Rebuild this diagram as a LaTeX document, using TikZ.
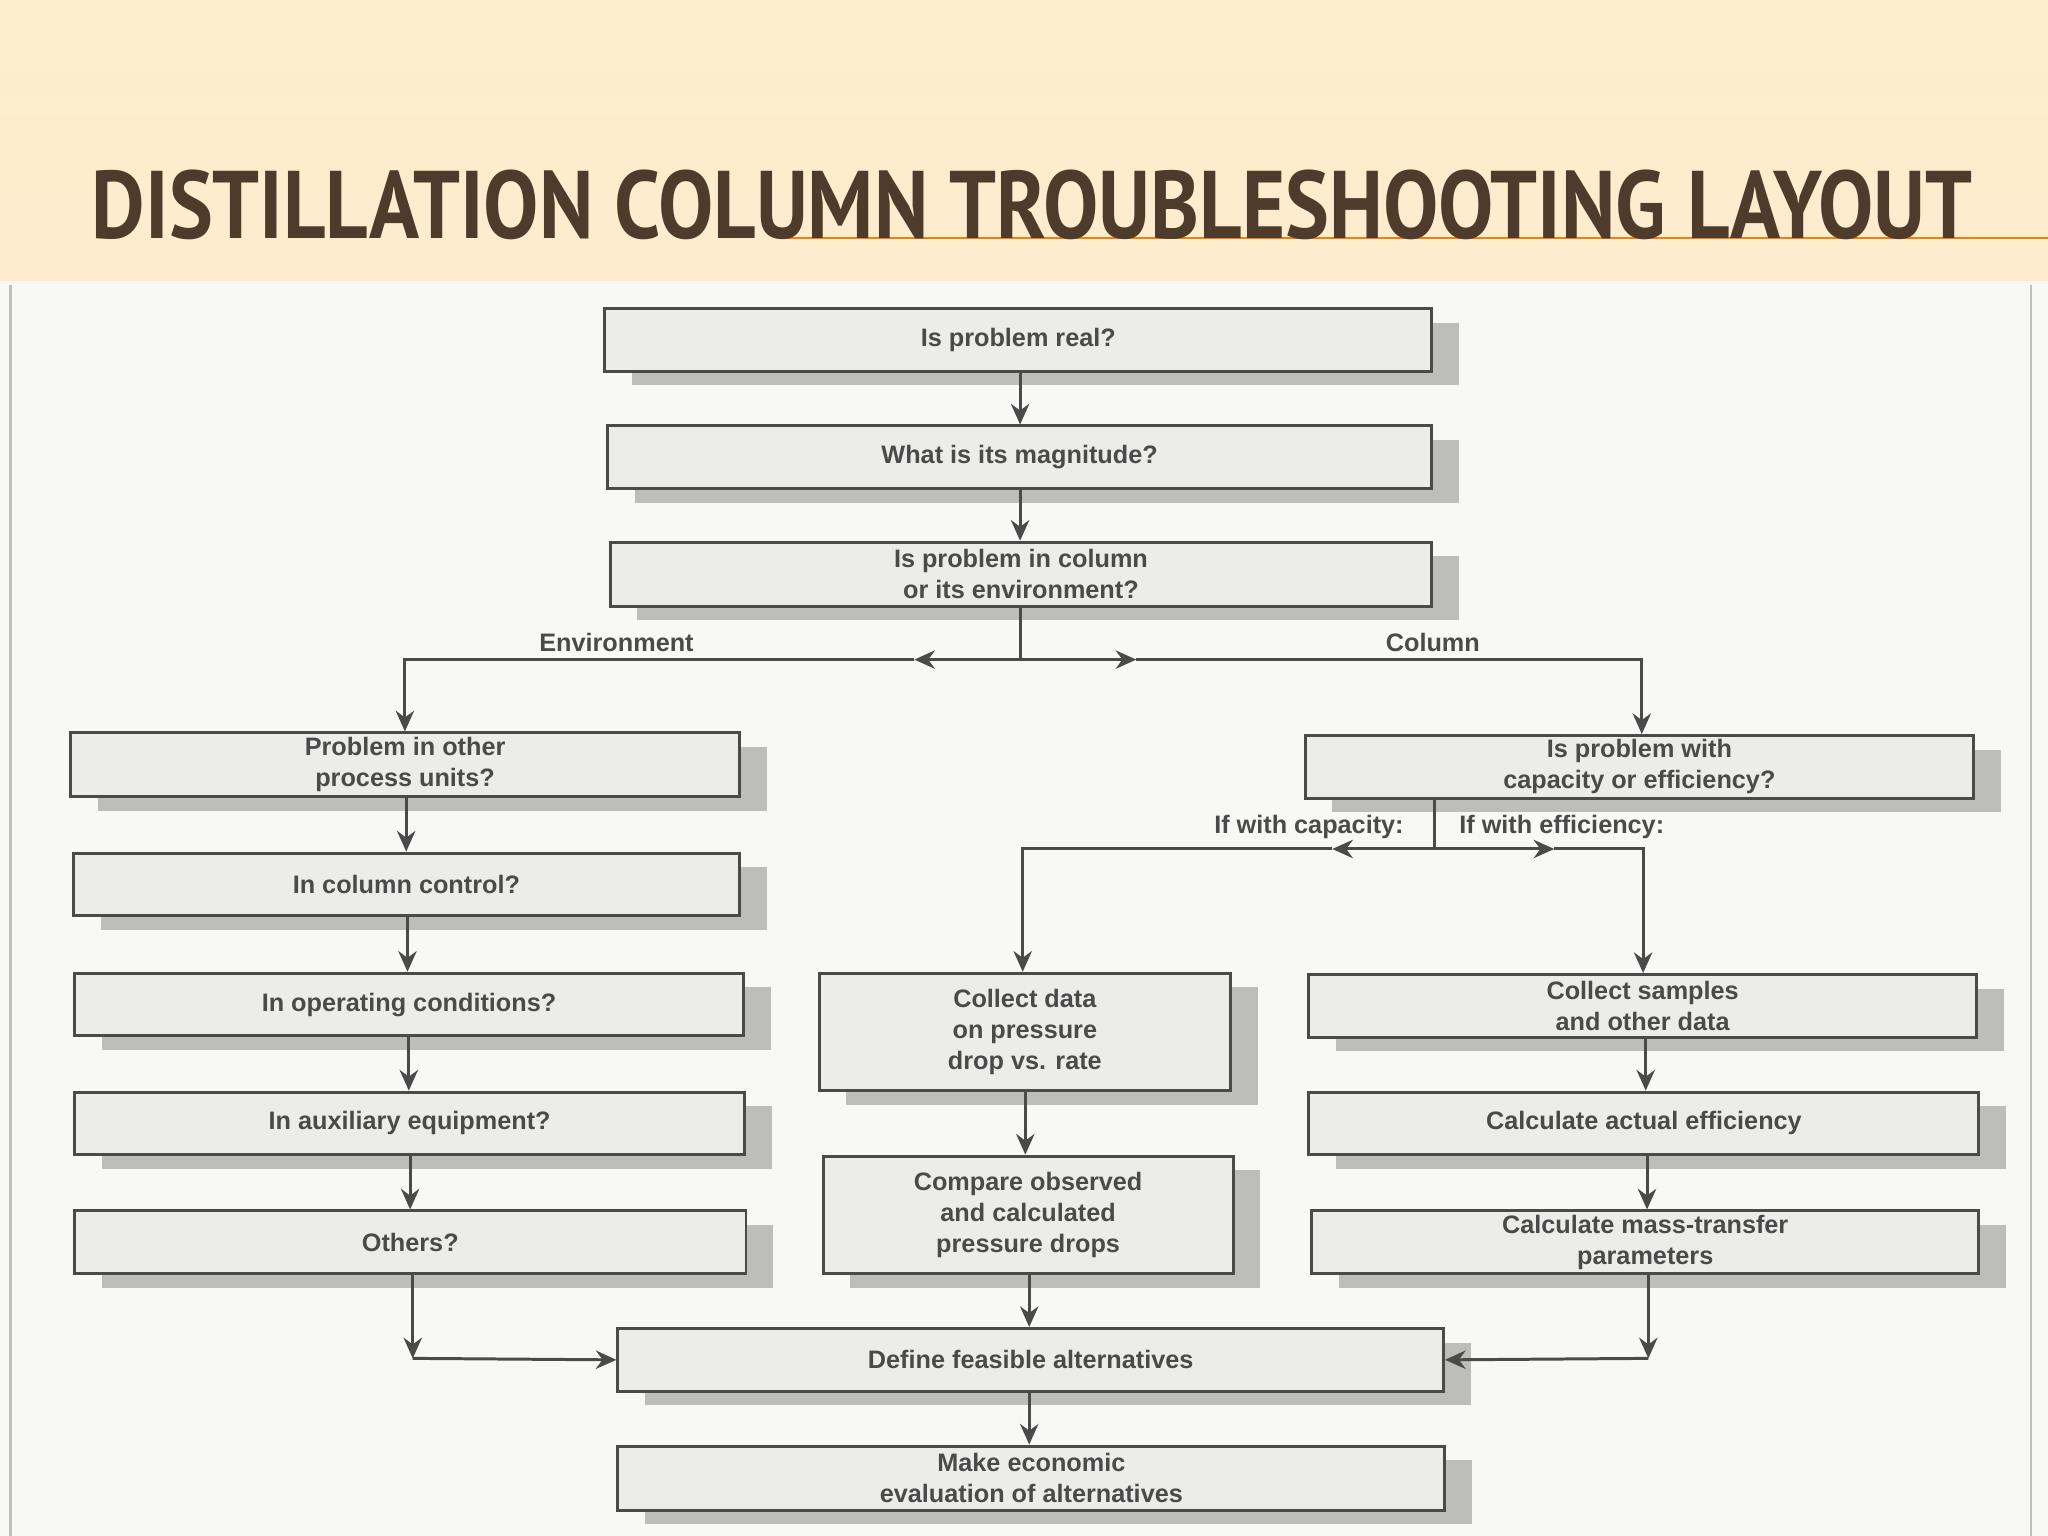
\documentclass[tikz,border=0pt]{standalone}
\usepackage{fontspec}
\setmainfont{Liberation Sans}
\newfontfamily\titlefont{PT Sans}
\usetikzlibrary{arrows.meta}
\definecolor{band}{HTML}{FCEFCB}
\definecolor{titlec}{HTML}{4E3B2C}
\definecolor{boxfill}{HTML}{ECECEA}
\definecolor{ink}{HTML}{4A4A4A}
\definecolor{shadowc}{HTML}{BDBDBB}
\definecolor{page}{HTML}{F8F8F6}
\tikzset{
  x=0.02cm,y=-0.02cm,
  fbox/.style={draw=ink,line width=1.3pt,fill=boxfill,text=ink,align=center,inner sep=0pt,
     font=\fontsize{11}{13.5}\selectfont\bfseries},
  lbl/.style={text=ink,font=\fontsize{11}{13}\selectfont\bfseries,inner sep=0pt},
  conn/.style={draw=ink,line width=1.3pt},
  arr/.style={conn,-{Stealth[length=9pt,width=8pt]}},
}
\newcommand{\bx}[6]{% name x1 y1 x2 y2 text
  \fill[shadowc] (#2+22,#3+12) rectangle (#4+22,#5+12);
  \node[fbox,minimum width={(#4-#2)*0.02cm},minimum height={(#5-#3)*0.02cm},anchor=north west] (#1) at (#2,#3) {#6};}
\begin{document}
\begin{tikzpicture}
\useasboundingbox (0,0) rectangle (1568,1176);
\fill[page] (0,0) rectangle (1568,1176);
\shade[top color=band,bottom color=band!85!orange!60!white] (0,0) rectangle (1568,215);
\fill[band] (0,0) rectangle (1568,60);
\draw[orange!80!brown,line width=1pt] (600,182) -- (1568,182);
\node[anchor=west,inner sep=0pt] (title) at (70,157) {\resizebox{28.8cm}{1.05cm}{\titlefont\bfseries\color{titlec}DISTILLATION COLUMN TROUBLESHOOTING LAYOUT}};
\draw[gray!50,line width=1pt] (8,218) -- (8,1176);
\draw[gray!50,line width=1pt] (1555,218) -- (1555,1176);

\bx{A}{462}{235}{1095}{283}{Is problem real?}
\bx{B}{464}{325}{1095}{373}{What is its magnitude?}
\bx{C}{466}{414}{1095}{463}{Is problem in column\\or its environment?}
\bx{D}{53}{560}{565}{609}{Problem in other\\process units?}
\bx{E}{55}{652}{565}{700}{In column control?}
\bx{F}{56}{744}{568}{792}{In operating conditions?}
\bx{G}{56}{835}{569}{883}{In auxiliary equipment?}
\bx{H}{56}{926}{570}{974}{Others?}
\bx{K}{998}{562}{1510}{610}{Is problem with\\capacity or efficiency?}
\bx{P}{626}{744}{941}{834}{Collect data\\on pressure\\drop vs. rate}
\bx{R}{629}{884}{943}{974}{Compare observed\\and calculated\\pressure drops}
\bx{Q}{1001}{745}{1512}{793}{Collect samples\\and other data}
\bx{S}{1001}{835}{1514}{883}{Calculate actual efficiency}
\bx{T}{1003}{926}{1514}{974}{Calculate mass-transfer\\parameters}
\bx{X}{472}{1016}{1104}{1064}{Define feasible alternatives}
\bx{Y}{472}{1106}{1105}{1155}{Make economic\\evaluation of alternatives}

\draw[arr] (A.south -| 781,0) -- (B.north -| 781,0);
\draw[arr] (B.south -| 781,0) -- (C.north -| 781,0);
\coordinate (c0) at (781,505);
\draw[conn] (C.south -| 781,0) -- (c0);
\draw[arr] (c0) -- (700,505);
\draw[arr] (c0) -- (870,505);
\draw[arr] (700,505) -| (D.north -| 310,0);
\draw[arr] (870,505) -| (K.north -| 1257,0);
\node[lbl] (env) at (472,492) {Environment};
\node[lbl] (col) at (1097,492) {Column};
\draw[arr] (D.south -| 311,0) -- (E.north -| 311,0);
\draw[arr] (E.south -| 312,0) -- (F.north -| 312,0);
\draw[arr] (F.south -| 313,0) -- (G.north -| 313,0);
\draw[arr] (G.south -| 314,0) -- (H.north -| 314,0);
\coordinate (k0) at (1098,650);
\draw[conn] (K.south -| 1098,0) -- (k0);
\draw[arr] (k0) -- (1020,650);
\draw[arr] (k0) -- (1190,650);
\draw[arr] (1020,650) -| (P.north -| 783,0);
\draw[arr] (1190,650) -| (Q.north -| 1258,0);
\node[lbl,anchor=east] (cap) at (1075,633) {If with capacity:};
\node[lbl,anchor=west] (eff) at (1117,633) {If with efficiency:};
\draw[arr] (P.south -| 785,0) -- (R.north -| 785,0);
\draw[arr] (Q.south -| 1260,0) -- (S.north -| 1260,0);
\draw[arr] (S.south -| 1261,0) -- (T.north -| 1261,0);
\draw[arr] (R.south -| 788,0) -- (X.north -| 788,0);
\draw[arr] (X.south -| 788,0) -- (Y.north -| 788,0);
\coordinate (h1) at (316,1040);
\coordinate (t1) at (1262,1040);
\draw[arr] (H.south -| 316,0) -- (h1);
\draw[arr] (h1) -- (X.west);
\draw[arr] (T.south -| 1262,0) -- (t1);
\draw[arr] (t1) -- (X.east);
\end{tikzpicture}
\end{document}
